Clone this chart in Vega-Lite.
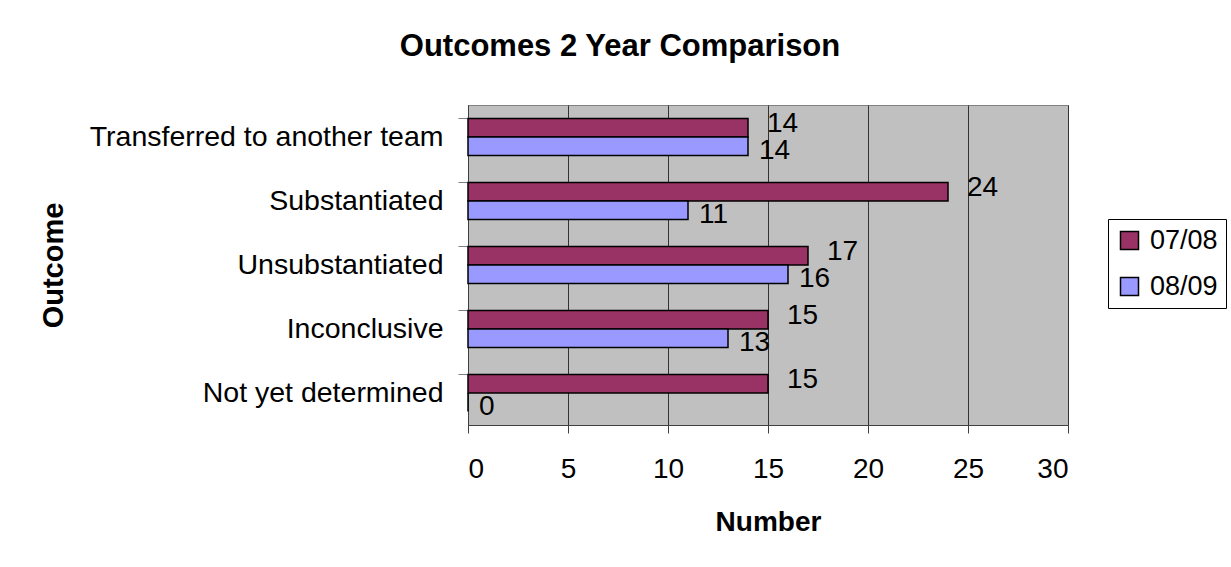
{
  "$schema": "https://vega.github.io/schema/vega-lite/v6.json",
  "autosize": "none",
  "width": 600,
  "height": 320,
  "padding": {"left": 468, "top": 105, "right": 163, "bottom": 142},
  "background": "white",
  "title": {
    "text": "Outcomes 2 Year Comparison",
    "font": "Liberation Sans",
    "fontSize": 31,
    "fontWeight": "bold",
    "color": "black",
    "anchor": "middle",
    "dx": -148,
    "offset": 42
  },
  "config": {
    "font": "Liberation Sans",
    "view": {"fill": "#C0C0C0", "stroke": "#808080", "strokeWidth": 1}
  },
  "data": {
    "values": [
      {"Outcome": "Transferred to another team", "Year": "07/08", "Number": 14},
      {"Outcome": "Transferred to another team", "Year": "08/09", "Number": 14},
      {"Outcome": "Substantiated", "Year": "07/08", "Number": 24},
      {"Outcome": "Substantiated", "Year": "08/09", "Number": 11},
      {"Outcome": "Unsubstantiated", "Year": "07/08", "Number": 17},
      {"Outcome": "Unsubstantiated", "Year": "08/09", "Number": 16},
      {"Outcome": "Inconclusive", "Year": "07/08", "Number": 15},
      {"Outcome": "Inconclusive", "Year": "08/09", "Number": 13},
      {"Outcome": "Not yet determined", "Year": "07/08", "Number": 15},
      {"Outcome": "Not yet determined", "Year": "08/09", "Number": 0}
    ]
  },
  "encoding": {
    "y": {
      "field": "Outcome",
      "type": "nominal",
      "sort": ["Transferred to another team", "Substantiated", "Unsubstantiated", "Inconclusive", "Not yet determined"],
      "scale": {"paddingInner": 0.42, "paddingOuter": 0.21},
      "axis": {
        "title": "Outcome",
        "titleFont": "Liberation Sans",
        "titleFontSize": 29,
        "titleFontWeight": "bold",
        "titleColor": "black",
        "titleX": -415,
        "titleY": 160,
        "titleAngle": -90,
        "titleAlign": "center",
        "titleBaseline": "middle",
        "labelFont": "Liberation Sans",
        "labelFontSize": 28.5,
        "labelColor": "black",
        "labelPadding": 15,
        "labelLimit": 0,
        "bandPosition": 0,
        "tickSize": 10,
        "tickColor": "#808080",
        "domainColor": "#404040",
        "grid": false
      }
    },
    "yOffset": {"field": "Year", "type": "nominal", "sort": ["07/08", "08/09"], "scale": {"paddingInner": 0, "paddingOuter": 0}},
    "x": {
      "field": "Number",
      "type": "quantitative",
      "scale": {"domain": [0, 30], "nice": false},
      "axis": {
        "values": [0, 5, 10, 15, 20, 25, 30],
        "title": "Number",
        "titleFont": "Liberation Sans",
        "titleFontSize": 28,
        "titleFontWeight": "bold",
        "titleColor": "black",
        "titlePadding": 25,
        "labelFont": "Liberation Sans",
        "labelFontSize": 28,
        "labelColor": "black",
        "labelPadding": 22,
        "tickSize": 8,
        "tickColor": "#404040",
        "domainColor": "#404040",
        "grid": true,
        "gridColor": "#333333",
        "gridWidth": 1
      }
    }
  },
  "layer": [
    {
      "mark": {"type": "bar", "stroke": "black", "strokeWidth": 1.5},
      "encoding": {
        "color": {
          "field": "Year",
          "type": "nominal",
          "scale": {"domain": ["07/08", "08/09"], "range": ["#993366", "#9999FF"]},
          "legend": {
            "title": null,
            "orient": "none",
            "legendX": 640,
            "legendY": 114,
            "direction": "vertical",
            "strokeColor": "black",
            "fillColor": "white",
            "padding": 8,
            "symbolType": "square",
            "symbolSize": 324,
            "symbolStrokeColor": "black",
            "symbolStrokeWidth": 1.5,
            "symbolOpacity": 1,
            "labelFont": "Liberation Sans",
            "labelFontSize": 27,
            "labelColor": "black",
            "labelOffset": 7,
            "rowPadding": 18
          }
        }
      }
    },
    {
      "transform": [{"filter": "datum.Year == '07/08'"}],
      "mark": {"type": "text", "align": "left", "baseline": "middle", "dx": 19, "dy": -4, "fontSize": 28, "font": "Liberation Sans", "color": "black"},
      "encoding": {"text": {"field": "Number", "type": "quantitative"}}
    },
    {
      "transform": [{"filter": "datum.Year == '08/09'"}],
      "mark": {"type": "text", "align": "left", "baseline": "middle", "dx": 11, "dy": 5, "fontSize": 28, "font": "Liberation Sans", "color": "black"},
      "encoding": {"text": {"field": "Number", "type": "quantitative"}}
    }
  ]
}
